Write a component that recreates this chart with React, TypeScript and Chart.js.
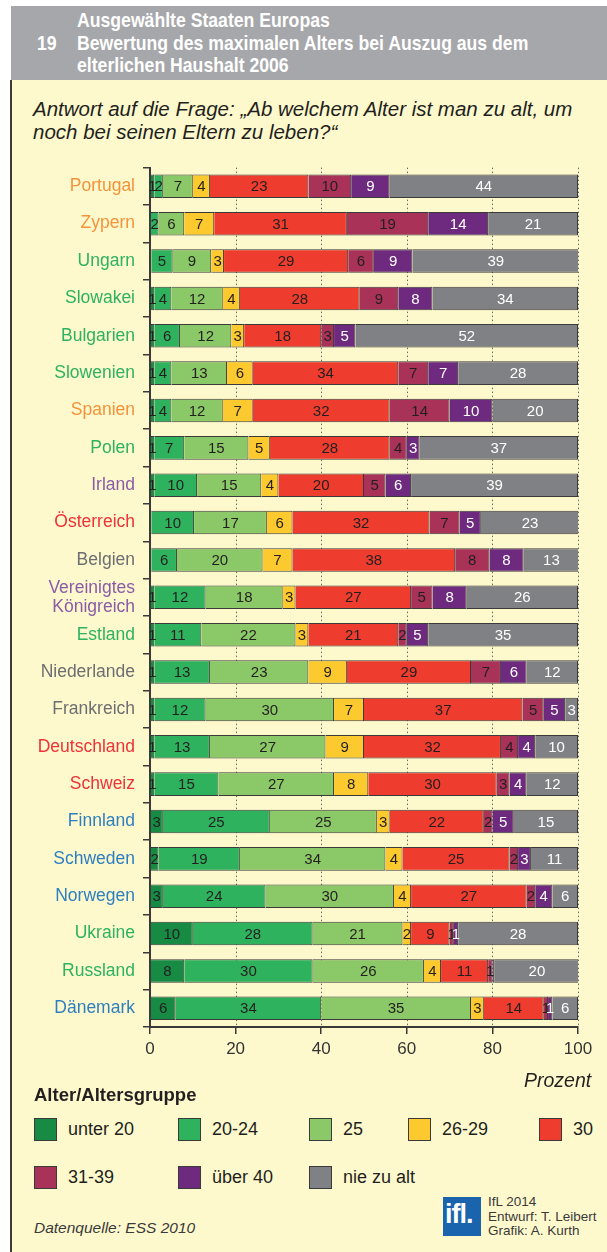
import React, { useEffect, useRef } from 'react';
import { Chart, registerables } from 'chart.js';

Chart.register(...registerables);

// ---------- DATA ----------
const countries: (string | string[])[] = [
  'Portugal', 'Zypern', 'Ungarn', 'Slowakei', 'Bulgarien', 'Slowenien', 'Spanien', 'Polen',
  'Irland', 'Österreich', 'Belgien', ['Vereinigtes', 'Königreich'], 'Estland', 'Niederlande',
  'Frankreich', 'Deutschland', 'Schweiz', 'Finnland', 'Schweden', 'Norwegen', 'Ukraine',
  'Russland', 'Dänemark',
];
const O = '#f5933b', G = '#2db25f', P = '#8b5ba8', R = '#ee3237', GR = '#6d6e71', B = '#2e7fc0';
const countryColors = [O, O, G, G, G, G, O, G, P, R, GR, P, G, GR, GR, R, R, B, B, B, G, G, B];

const seriesLabels = ['unter 20', '20-24', '25', '26-29', '30', '31-39', 'über 40', 'nie zu alt'];
const seriesColors = ['#178a43', '#2fb25d', '#8bc867', '#fcc92f', '#ee3d2e', '#a93259', '#6d2a7e', '#808184'];
const seriesTextColors = ['#231f20', '#231f20', '#231f20', '#231f20', '#231f20', '#231f20', '#ffffff', '#ffffff'];

const unter20 = [1, 0, 0.3, 1, 1, 1, 1, 1, 1, 0.3, 0.3, 1, 1, 1, 1, 1, 1, 3, 2, 3, 10, 8, 6];
const alter2024 = [2, 2, 5, 4, 6, 4, 4, 7, 10, 10, 6, 12, 11, 13, 12, 13, 15, 25, 19, 24, 28, 30, 34];
const alter25 = [7, 6, 9, 12, 12, 13, 12, 15, 15, 17, 20, 18, 22, 23, 30, 27, 27, 25, 34, 30, 21, 26, 35];
const alter2629 = [4, 7, 3, 4, 3, 6, 7, 5, 4, 6, 7, 3, 3, 9, 7, 9, 8, 3, 4, 4, 2, 4, 3];
const alter30 = [23, 31, 29, 28, 18, 34, 32, 28, 20, 32, 38, 27, 21, 29, 37, 32, 30, 22, 25, 27, 9, 11, 14];
const alter3139 = [10, 19, 6, 9, 3, 7, 14, 4, 5, 7, 8, 5, 2, 7, 5, 4, 3, 2, 2, 2, 1, 1, 1];
const ueber40 = [9, 14, 9, 8, 5, 7, 10, 3, 6, 5, 8, 8, 5, 6, 5, 4, 4, 5, 3, 4, 1, 0.4, 1];
const nieZuAlt = [44, 21, 39, 34, 52, 28, 20, 37, 39, 23, 13, 26, 35, 12, 3, 10, 12, 15, 11, 6, 28, 20, 6];

const seriesData = [unter20, alter2024, alter25, alter2629, alter30, alter3139, ueber40, nieZuAlt];
const xTicks = [0, 20, 40, 60, 80, 100];

const FONT = '"Liberation Sans", Arial, Helvetica, sans-serif';

const gridPlugin = {
  id: 'dottedGrid',
  beforeDatasetsDraw(chart: any) {
    const { ctx, chartArea, scales } = chart;
    ctx.save();
    ctx.strokeStyle = '#6a6a6a';
    ctx.lineWidth = 1;
    ctx.setLineDash([1.5, 2.5]);
    xTicks.forEach((v) => {
      if (v === 0) return;
      const x = Math.round(scales.x.getPixelForValue(v)) + 0.5;
      ctx.beginPath();
      ctx.moveTo(x, chartArea.top);
      ctx.lineTo(x, chartArea.bottom);
      ctx.stroke();
    });
    ctx.restore();
  },
};

const labelPlugin = {
  id: 'segLabels',
  afterDatasetsDraw(chart: any) {
    const { ctx } = chart;
    ctx.save();
    ctx.font = `15px ${FONT}`;
    ctx.textAlign = 'center';
    ctx.textBaseline = 'middle';
    chart.data.datasets.forEach((ds: any, i: number) => {
      const meta = chart.getDatasetMeta(i);
      meta.data.forEach((bar: any, j: number) => {
        const v = ds.data[j];
        if (v < 0.5) return;
        const p = bar.getProps(['x', 'y', 'base'], true);
        ctx.fillStyle = seriesTextColors[i];
        ctx.fillText(String(Math.round(v)), (p.x + p.base) / 2, p.y + 1);
      });
    });
    ctx.restore();
  },
};

const headerFont: React.CSSProperties = {
  position: 'absolute', color: '#fff', fontWeight: 'bold', fontSize: 20.5, lineHeight: '22.5px',
  fontFamily: FONT, whiteSpace: 'nowrap', transform: 'scaleX(0.86)', transformOrigin: 'left top',
};

export default function App() {
  const ref = useRef<HTMLCanvasElement>(null);

  useEffect(() => {
    const chart = new Chart(ref.current!, {
      type: 'bar',
      data: {
        labels: countries,
        datasets: seriesData.map((d, i) => ({
          label: seriesLabels[i],
          data: d,
          backgroundColor: seriesColors[i],
          borderColor: '#3a3a3a',
          borderWidth: 1,
          barPercentage: 0.63,
          categoryPercentage: 1,
        })),
      },
      options: {
        indexAxis: 'y',
        responsive: false,
        animation: false,
        events: [],
        layout: { padding: { top: 13, right: 29, left: 0, bottom: 0 } },
        plugins: { legend: { display: false }, tooltip: { enabled: false } },
        scales: {
          x: {
            stacked: true,
            min: 0,
            max: 100,
            afterFit: (s: any) => { s.height = 73; },
            afterBuildTicks: (s: any) => { s.ticks = xTicks.map((v) => ({ value: v })); },
            grid: { display: true, drawOnChartArea: false, drawTicks: true, tickLength: 7, color: '#3a3a3a', lineWidth: 1.5 },
            border: { display: true, color: '#3a3a3a', width: 2 },
            ticks: { color: '#333333', font: { family: FONT, size: 17 }, padding: 5, maxRotation: 0 },
          },
          y: {
            stacked: true,
            offset: true,
            afterFit: (s: any) => { s.width = 150; },
            grid: { display: true, offset: true, drawOnChartArea: false, drawTicks: true, tickLength: 7, color: '#3a3a3a', lineWidth: 1.5 },
            border: { display: true, color: '#3a3a3a', width: 2 },
            ticks: {
              color: (ctx: any) => countryColors[ctx.index],
              font: { family: FONT, size: 17.5, lineHeight: 1.1 },
              padding: 8,
              autoSkip: false,
            },
          },
        },
      },
      plugins: [gridPlugin, labelPlugin],
    } as any);
    return () => chart.destroy();
  }, []);

  const legendRows = [[0, 1, 2, 3, 4], [5, 6, 7]];
  const colX = [34, 178, 309, 408, 539];

  return (
    <div style={{ position: 'absolute', left: 0, top: 0, width: 607, height: 1252, overflow: 'hidden', background: '#ffffff', fontFamily: FONT }}>
      {/* cream panel */}
      <div style={{ position: 'absolute', left: 10, top: 80, width: 597, height: 1172, background: '#fef9cd', borderLeft: '2px solid #3a3a3a', boxSizing: 'border-box' }} />
      {/* header */}
      <div style={{ position: 'absolute', left: 11, top: 6, width: 596, height: 74, background: '#a6a7aa' }} />
      <div style={{ ...headerFont, left: 37, top: 32 }}>19</div>
      <div style={{ ...headerFont, left: 77, top: 9 }}>
        Ausgewählte Staaten Europas<br />
        Bewertung des maximalen Alters bei Auszug aus dem<br />
        elterlichen Haushalt 2006
      </div>
      {/* subtitle */}
      <div style={{ position: 'absolute', left: 33, top: 97, fontSize: 20.5, fontStyle: 'italic', lineHeight: '23px', color: '#231f20', whiteSpace: 'nowrap' }}>
        Antwort auf die Frage: „Ab welchem Alter ist man zu alt, um<br />
        noch bei seinen Eltern zu leben?“
      </div>
      {/* chart */}
      <canvas ref={ref} width={607} height={950} style={{ position: 'absolute', left: 0, top: 150, width: 607, height: 950 }} />
      <div style={{ position: 'absolute', left: 524, top: 1068, fontSize: 19.5, fontStyle: 'italic', color: '#231f20', lineHeight: '24px' }}>Prozent</div>
      {/* legend */}
      <div style={{ position: 'absolute', left: 34, top: 1083, fontSize: 18.5, fontWeight: 'bold', color: '#231f20', lineHeight: '24px' }}>Alter/Altersgruppe</div>
      {legendRows.map((row, r) =>
        row.map((si, c) => (
          <React.Fragment key={si}>
            <div style={{ position: 'absolute', left: colX[c], top: 1118 + r * 48, width: 21, height: 21, background: seriesColors[si], border: '1px solid #3a3a3a' }} />
            <div style={{ position: 'absolute', left: colX[c] + 34, top: 1117 + r * 48, fontSize: 18, color: '#231f20', lineHeight: '24px', whiteSpace: 'nowrap' }}>{seriesLabels[si]}</div>
          </React.Fragment>
        ))
      )}
      {/* footer */}
      <div style={{ position: 'absolute', left: 34, top: 1218, fontSize: 15.5, fontStyle: 'italic', color: '#3a3a3a', lineHeight: '20px' }}>Datenquelle: ESS 2010</div>
      <div style={{ position: 'absolute', left: 443, top: 1197, width: 38, height: 39, background: '#1a63ad', color: '#fff', fontWeight: 'bold', fontSize: 27, lineHeight: '34px', textAlign: 'left', paddingLeft: 2, boxSizing: 'border-box', letterSpacing: -1 }}>ifl.</div>
      <div style={{ position: 'absolute', left: 488, top: 1195, fontSize: 13.5, lineHeight: '14.5px', color: '#3a3a3a', whiteSpace: 'nowrap' }}>
        IfL 2014<br />Entwurf: T. Leibert<br />Grafik: A. Kurth
      </div>
    </div>
  );
}
